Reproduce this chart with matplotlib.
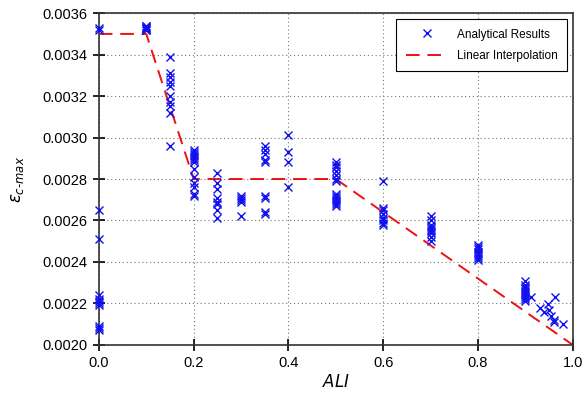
import matplotlib.pyplot as plt
import numpy as np

plt.rcParams['font.family'] = ['Liberation Sans', 'DejaVu Sans']

# analytical results (ALI, eps_c-max)
ali_0 = [0.0, 0.0, 0.0, 0.0, 0.0, 0.0, 0.0, 0.0, 0.0, 0.0, 0.0, 0.0]
eps_0 = [0.00353, 0.00352, 0.00265, 0.00251, 0.00224, 0.00222, 0.00221,
         0.00220, 0.00219, 0.00209, 0.00208, 0.00207]
eps_01 = [0.00354, 0.00353, 0.00353, 0.00352, 0.00352, 0.00353, 0.00354]
eps_015 = [0.00339, 0.00331, 0.00329, 0.00327, 0.00325, 0.00320, 0.00317,
           0.00315, 0.00312, 0.00296]
eps_02 = [0.00294, 0.00293, 0.00292, 0.00291, 0.00290, 0.00289, 0.00288,
          0.00285, 0.00281, 0.00278, 0.00276, 0.00273, 0.00272]
eps_025 = [0.00283, 0.00278, 0.00275, 0.00271, 0.00269, 0.00268, 0.00265,
           0.00261]
eps_03 = [0.00272, 0.00271, 0.00270, 0.00269, 0.00262]
eps_035 = [0.00296, 0.00294, 0.00292, 0.00289, 0.00288, 0.00272, 0.00271,
           0.00264, 0.00263]
eps_04 = [0.00301, 0.00293, 0.00288, 0.00276]
eps_05 = [0.00288, 0.00287, 0.00286, 0.00284, 0.00282, 0.00280, 0.00279,
          0.00273, 0.00272, 0.00271, 0.00270, 0.00269, 0.00268, 0.00267]
eps_06 = [0.00279, 0.00266, 0.00265, 0.00263, 0.00261, 0.00260, 0.00259,
          0.00258]
eps_07 = [0.00262, 0.00260, 0.00258, 0.00257, 0.00256, 0.00255, 0.00254,
          0.00252, 0.00250]
eps_08 = [0.00248, 0.00247, 0.00246, 0.00245, 0.00244, 0.00243, 0.00242,
          0.00241]
eps_09 = [0.00231, 0.00229, 0.00228, 0.00227, 0.00226, 0.00225, 0.00224,
          0.00223, 0.00222, 0.00221]
ali_tail = [0.911, 0.93, 0.94, 0.947, 0.95, 0.955, 0.96, 0.96, 0.962, 0.98]
eps_tail = [0.00223, 0.00218, 0.00216, 0.002195, 0.00217, 0.00214, 0.00212,
            0.00211, 0.00223, 0.00210]

groups = [(0.1, eps_01), (0.15, eps_015), (0.2, eps_02), (0.25, eps_025),
          (0.3, eps_03), (0.35, eps_035), (0.4, eps_04), (0.5, eps_05),
          (0.6, eps_06), (0.7, eps_07), (0.8, eps_08), (0.9, eps_09)]

ali = list(ali_0)
eps = list(eps_0)
for a, e in groups:
    ali += [a] * len(e)
    eps += e
ali += ali_tail
eps += eps_tail

# linear interpolation
lin_x = [0.0, 0.1, 0.2, 0.5, 1.0]
lin_y = [0.0035, 0.0035, 0.0028, 0.0028, 0.0020]

fig = plt.figure(figsize=(5.85, 4.12), dpi=100)
ax = fig.add_axes([0.169, 0.163, 0.81, 0.805])

ax.plot(ali, eps, 'x', color='#1010ee', markersize=6, mew=1.0,
        label='Analytical Results', clip_on=False, zorder=3)
ax.plot(lin_x, lin_y, color='#ee1111', lw=1.4, dashes=(7, 4),
        label='Linear Interpolation', zorder=2)

ax.set_xlim(0, 1.0)
ax.set_ylim(0.0020, 0.0036)
ax.set_xticks(np.arange(0, 1.01, 0.2))
ax.set_yticks(np.arange(0.0020, 0.00361, 0.0002))
ax.xaxis.set_major_formatter(plt.FormatStrFormatter('%.1f'))
ax.yaxis.set_major_formatter(plt.FormatStrFormatter('%.4f'))
ax.tick_params(direction='inout', length=8, width=1.2, labelsize=10.5, pad=4)
ax.grid(True, linestyle=(0, (1, 2.5)), color='#777777', lw=0.8)
for s in ax.spines.values():
    s.set_linewidth(1.2)
    s.set_color('#333333')

ax.set_xlabel('$ALI$', fontsize=12, labelpad=2)
ax.set_ylabel(r'$\varepsilon_{c\text{-}max}$', fontsize=12, labelpad=12)

leg = ax.legend(loc='upper right', fontsize=8.5, fancybox=False,
                edgecolor='black', framealpha=1, handlelength=3.5,
                borderpad=0.8, labelspacing=0.8)
leg.get_frame().set_linewidth(0.8)

plt.savefig('out.png', dpi=100)
